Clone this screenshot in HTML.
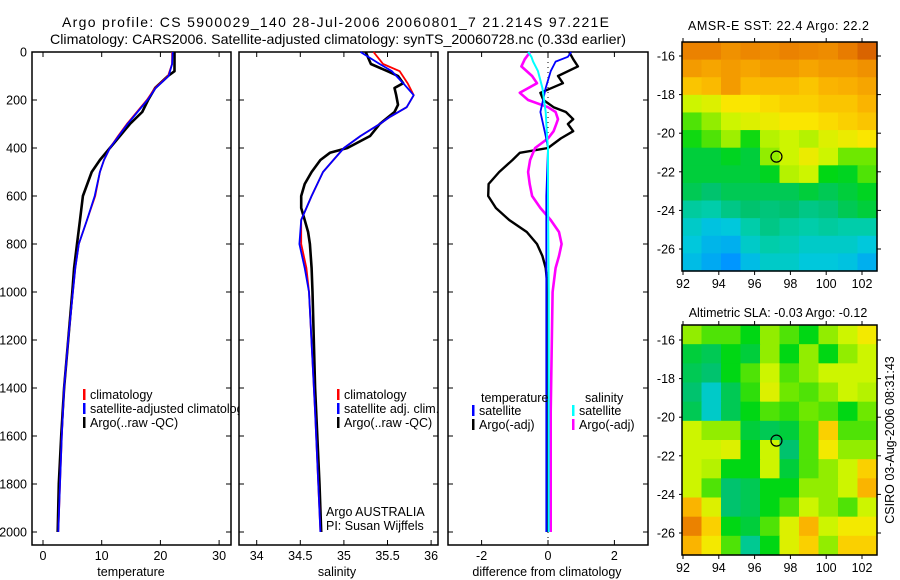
<!DOCTYPE html>
<html><head><meta charset="utf-8"><style>
html,body{margin:0;padding:0;background:#fff;width:900px;height:580px;overflow:hidden}
svg{font-family:"Liberation Sans",sans-serif;display:block}
</style></head><body>
<svg id="fig" width="900" height="580" viewBox="0 0 900 580" xmlns="http://www.w3.org/2000/svg">
<defs><clipPath id="clipP1"><rect x="0" y="0" width="239" height="580"/></clipPath></defs>
<text x="62" y="27" font-size="14" textLength="547" lengthAdjust="spacing">Argo profile: CS 5900029_140 28-Jul-2006 20060801_7 21.214S 97.221E</text>
<text x="50" y="44" font-size="14" textLength="576" lengthAdjust="spacingAndGlyphs">Climatology: CARS2006. Satellite-adjusted climatology: synTS_20060728.nc (0.33d earlier)</text>
<text x="688" y="30" font-size="12.5" textLength="181" lengthAdjust="spacing">AMSR-E SST: 22.4 Argo: 22.2</text>
<text x="778" y="317" font-size="12.5" text-anchor="middle">Altimetric SLA: -0.03 Argo: -0.12</text>
<text x="0" y="0" font-size="12.5" text-anchor="middle" transform="translate(894,440) rotate(-90)">CSIRO 03-Aug-2006 08:31:43</text>
</svg>
<script>
// ---- depth profile data ----
const tempDepth=[0,50,100,150,200,250,300,350,400,450,500,600,700,800,900,1000,1200,1400,1600,1800,2000];
const tempClim=[22,22,21.3,19.1,17.7,16,14.3,12.8,11.4,10.4,9.7,8.9,7.5,6.1,5.5,5.1,4.3,3.6,3.2,2.9,2.6];
const tempSat=[22.1,22,21.4,19.2,17.8,16.1,14.4,12.9,11.4,10.4,9.7,8.8,7.5,6.1,5.5,5.1,4.3,3.6,3.2,2.9,2.6];
const argoDepth=[0,80,100,150,200,250,300,350,400,450,500,600,700,800,900,1000,1200,1400,1600,1800,2000];
const tempArgo=[22.4,22.4,21.3,19.1,17.9,16.9,14.8,13.1,11.4,9.7,8.3,6.8,6.3,5.8,5.3,5.0,4.3,3.6,3.1,2.7,2.5];
const salDepth=[0,50,80,130,180,230,270,300,350,400,450,500,600,700,800,900,1000,1500,2000];
const salClim=[35.34,35.45,35.64,35.73,35.8,35.72,35.53,35.41,35.19,35.0,34.88,34.76,34.63,34.51,34.51,34.57,34.6,34.67,34.73];
const salSat=[35.19,35.41,35.55,35.68,35.8,35.72,35.53,35.41,35.19,35.0,34.88,34.76,34.63,34.51,34.49,34.55,34.6,34.67,34.73];
const salArgoDepth=[0,50,80,100,130,150,180,220,250,300,350,400,420,450,500,550,600,650,700,750,800,900,1000,1400,1800,2000];
const salArgo=[35.25,35.31,35.5,35.62,35.68,35.58,35.6,35.62,35.58,35.41,35.3,35.04,34.84,34.73,34.63,34.55,34.51,34.51,34.55,34.59,34.61,34.63,34.64,34.67,34.72,34.74];
const diffDepth=[0,30,60,100,130,170,200,230,250,280,300,330,360,400,420,450,500,550,600,650,700,750,800,850,900,1000,1500,2000];
const diffTempArgo=[0.64,0.76,0.9,0.3,0.45,-0.23,-0.14,0.17,0.54,0.76,0.6,0.76,0.39,0,-0.85,-1.07,-1.47,-1.79,-1.8,-1.57,-1.17,-0.64,-0.33,-0.17,-0.07,0,-0.02,-0.03];
const diffSalArgo=[-0.54,-0.7,-0.8,-0.48,-0.33,-0.85,-0.6,0,0.23,0.3,0.25,0.17,0.0,-0.39,-0.45,-0.54,-0.6,-0.55,-0.48,-0.23,0.08,0.33,0.41,0.33,0.23,0.14,0.08,0.08];
const sdiffDepth=[0,20,40,80,150,250,350,400,600,1000,1500,2000];
const diffTempSat=[0.7,0.6,0.23,0.08,-0.07,-0.23,-0.07,0,-0.05,-0.05,-0.05,-0.05];
const diffSalSat=[-0.6,-0.5,-0.45,-0.3,-0.17,-0.07,-0.03,0,0.0,0.02,0.02,0.02];
// ---- map grids (rows north->south, cols west->east), colour index 0..1 ----
const sstGrid=[
[0.85,0.85,0.82,0.84,0.83,0.85,0.84,0.83,0.86,0.9],
[0.8,0.78,0.8,0.78,0.8,0.8,0.78,0.8,0.8,0.82],
[0.72,0.74,0.8,0.74,0.74,0.74,0.72,0.75,0.76,0.78],
[0.6,0.62,0.66,0.66,0.68,0.7,0.7,0.72,0.72,0.75],
[0.5,0.55,0.6,0.62,0.64,0.66,0.66,0.68,0.7,0.72],
[0.46,0.5,0.56,0.46,0.58,0.6,0.58,0.62,0.64,0.66],
[0.42,0.42,0.44,0.42,0.55,0.6,0.64,0.6,0.52,0.52],
[0.42,0.42,0.42,0.42,0.44,0.58,0.6,0.45,0.44,0.5],
[0.4,0.38,0.4,0.4,0.4,0.4,0.42,0.4,0.42,0.44],
[0.34,0.33,0.36,0.38,0.37,0.38,0.36,0.37,0.4,0.42],
[0.3,0.27,0.28,0.33,0.36,0.34,0.33,0.34,0.33,0.33],
[0.28,0.25,0.24,0.3,0.33,0.32,0.3,0.3,0.3,0.28],
[0.26,0.23,0.2,0.26,0.3,0.3,0.28,0.28,0.27,0.24]];
const slaGrid=[
[0.55,0.5,0.5,0.45,0.55,0.5,0.45,0.55,0.6,0.65],
[0.42,0.4,0.45,0.42,0.55,0.45,0.55,0.45,0.55,0.6],
[0.4,0.38,0.45,0.5,0.6,0.5,0.55,0.6,0.6,0.6],
[0.38,0.3,0.4,0.48,0.62,0.52,0.5,0.55,0.6,0.58],
[0.4,0.3,0.4,0.45,0.5,0.48,0.52,0.5,0.45,0.52],
[0.6,0.55,0.55,0.42,0.4,0.42,0.5,0.7,0.5,0.5],
[0.6,0.6,0.62,0.45,0.6,0.38,0.5,0.65,0.55,0.55],
[0.6,0.58,0.45,0.45,0.6,0.42,0.5,0.55,0.6,0.7],
[0.6,0.5,0.38,0.4,0.45,0.45,0.55,0.55,0.6,0.75],
[0.75,0.62,0.38,0.4,0.45,0.5,0.6,0.55,0.5,0.6],
[0.85,0.7,0.45,0.42,0.5,0.62,0.75,0.6,0.65,0.65],
[0.75,0.65,0.5,0.35,0.45,0.62,0.7,0.55,0.7,0.7]];
const depthTicks=[0,200,400,600,800,1000,1200,1400,1600,1800,2000];
const tempTicks=[0,10,20,30];
const salTicks=[34,34.5,35,35.5,36];
const diffTicks=[-2,0,2];
const latTicks=[16,18,20,22,24,26];
const lonTicks=[92,94,96,98,100,102];

const NS="http://www.w3.org/2000/svg";
const svg=document.getElementById('fig');
function el(tag,attrs,parent){const e=document.createElementNS(NS,tag);for(const k in attrs)e.setAttribute(k,attrs[k]);(parent||svg).appendChild(e);return e;}
const yD=d=>52+d*0.24;
const xT=v=>43+v*5.87;
const xS=v=>256.7+(v-34)*87.2;
const xF=v=>548+v*33.2;

function panel(name,x0,x1){
  const g=el('g',{});
  
  
  el('rect',{x:x0,y:52,width:x1-x0,height:493,fill:'#fff',stroke:'#000','stroke-width':1.5},g);
  return g;
}
function line(g,name,xs,ys,fx,color,w,dash){
  const pts=xs.map((v,i)=>fx(v).toFixed(1)+','+yD(ys[i]).toFixed(1)).join(' ');
  const p=el('polyline',{points:pts,fill:'none',stroke:color,'stroke-width':w,'stroke-linejoin':'round'},g);
  if(dash)p.setAttribute('stroke-dasharray',dash);
  
  
}
function xticks(g,ticks,fx,x0,x1){
  ticks.forEach(t=>{const x=fx(t);
    el('line',{x1:x,y1:52,x2:x,y2:57,stroke:'#000'},g);
    el('line',{x1:x,y1:545,x2:x,y2:540,stroke:'#000'},g);
    const tx=el('text',{x:x,y:560,'font-size':12.5,'text-anchor':'middle'},g);tx.textContent=String(t);
    
    
  });
  depthTicks.forEach(d=>{const y=yD(d);
    el('line',{x1:x0,y1:y,x2:x0+5,y2:y,stroke:'#000'},g);
    el('line',{x1:x1,y1:y,x2:x1-5,y2:y,stroke:'#000'},g);});
}
function legend(g,x,y,color,label,name){
  el('rect',{x:x,y:y-9,width:2.5,height:11,fill:color},g);
  if(label){const t=el('text',{x:x+7,y:y+1,'font-size':12.5},g);t.textContent=label;
  
  }
}
function label(g,x,y,txt,name,anchor){const t=el('text',{x:x,y:y,'font-size':12.5,'text-anchor':anchor||'start'},g);t.textContent=txt;
  
  return t;}

// Panel 1 temperature
const p1=panel('temperature-panel',32,231);
xticks(p1,tempTicks,xT,32,231);
depthTicks.forEach(d=>{const t=el('text',{x:27,y:yD(d)+4.5,'font-size':12.5,'text-anchor':'end'},p1);t.textContent=String(d);
  
  });
line(p1,'temp-argo-line',tempArgo,argoDepth,xT,'#000',2.6);
line(p1,'temp-climatology-line',tempClim,tempDepth,xT,'#f00',1.8);
line(p1,'temp-satellite-line',tempSat,tempDepth,xT,'#00f',1.8);
label(p1,131,576,'temperature','temperature-axis-title','middle');
const lg1=el('g',{'clip-path':'url(#clipP1)'},p1);
legend(lg1,83,398,'#f00','climatology','legend-climatology');
legend(lg1,83,412,'#00f','satellite-adjusted climatology','legend-satellite-adjusted');
legend(lg1,83,426,'#000','Argo(..raw -QC)','legend-argo');

// Panel 2 salinity
const p2=panel('salinity-panel',239,438);
xticks(p2,salTicks,xS,239,438);
line(p2,'sal-argo-line',salArgo,salArgoDepth,xS,'#000',2.6);
line(p2,'sal-climatology-line',salClim,salDepth,xS,'#f00',1.8);
line(p2,'sal-satellite-line',salSat,salDepth,xS,'#00f',1.8);
label(p2,337,576,'salinity','salinity-axis-title','middle');
legend(p2,337,398,'#f00','climatology','legend-climatology');
legend(p2,337,412,'#00f','satellite adj. clim.','legend-satellite-adj');
legend(p2,337,426,'#000','Argo(..raw -QC)','legend-argo');
label(p2,326,516,'Argo AUSTRALIA','argo-agency-label');
label(p2,326,530,'PI: Susan Wijffels','pi-label');

// Panel 3 differences
const p3=panel('difference-panel',448,648);
xticks(p3,diffTicks,xF,448,648);
el('line',{x1:xF(0),y1:52,x2:xF(0),y2:545,stroke:'#000','stroke-dasharray':'1,4'},p3);
line(p3,'diff-temp-argo-line',diffTempArgo,diffDepth,xF,'#000',2.4);
line(p3,'diff-sal-argo-line',diffSalArgo,diffDepth,xF,'#f0f',2.6);
line(p3,'diff-temp-satellite-line',diffTempSat,sdiffDepth,xF,'#00f',1.8);
line(p3,'diff-sal-satellite-line',diffSalSat,sdiffDepth,xF,'#0ff',2);
label(p3,547,576,'difference from climatology','difference-axis-title','middle');
label(p3,481,402,'temperature','legend-temperature-header');
label(p3,585,402,'salinity','legend-salinity-header');
legend(p3,472,414,'#00f','satellite','legend-temp-satellite');
legend(p3,472,428,'#000','Argo(-adj)','legend-temp-argo');
legend(p3,572,414,'#0ff','satellite','legend-sal-satellite');
legend(p3,572,428,'#f0f','Argo(-adj)','legend-sal-argo');

// ---- maps ----
const stops=[[0.2,[0,150,255]],[0.28,[0,200,220]],[0.33,[0,205,170]],[0.38,[0,195,110]],[0.45,[0,215,20]],[0.52,[110,232,0]],[0.6,[205,245,0]],[0.66,[250,230,0]],[0.75,[250,180,0]],[0.85,[235,130,0]],[0.95,[200,70,0]]];
function cmap(v){
  if(v<=stops[0][0])return stops[0][1];
  for(let i=1;i<stops.length;i++){if(v<=stops[i][0]){const a=stops[i-1],b=stops[i],f=(v-a[0])/(b[0]-a[0]);
    return a[1].map((c,k)=>Math.round(c+(b[1][k]-c)*f));}}
  return stops[stops.length-1][1];
}
function mapPanel(name,grid,top,bot,lat16y){
  const x0=682,x1=877;
  const g=el('g',{});
  
  
  const rows=grid.length,cols=grid[0].length;
  const cw=(x1-x0)/cols,ch=(bot-top)/rows;
  grid.forEach((row,r)=>row.forEach((v,c)=>{
    const c3=cmap(v);
    const rc=el('rect',{x:(x0+c*cw).toFixed(2),y:(top+r*ch).toFixed(2),width:(cw+0.6).toFixed(2),height:(ch+0.6).toFixed(2),fill:'rgb('+c3.join(',')+')'},g);
    
    
  }));
  el('rect',{x:x0,y:top,width:x1-x0,height:bot-top,fill:'none',stroke:'#000','stroke-width':1.5},g);
  const lonX=l=>683+(l-92)*17.9;
  const latY=l=>lat16y+(l-16)*19.3;
  lonTicks.forEach(l=>{const x=lonX(l);
    el('line',{x1:x,y1:top,x2:x,y2:top-4,stroke:'#000'},g);
    el('line',{x1:x,y1:bot,x2:x,y2:bot+4,stroke:'#000'},g);
    const t=el('text',{x:x,y:bot+17,'font-size':12.5,'text-anchor':'middle'},g);t.textContent=String(l);
    
    });
  latTicks.forEach(l=>{const y=latY(l);
    el('line',{x1:x1,y1:y,x2:x1+4,y2:y,stroke:'#000'},g);
    el('line',{x1:x0,y1:y,x2:x0-3,y2:y,stroke:'#000'},g);
    const t=el('text',{x:x0-7,y:y+4.5,'font-size':12.5,'text-anchor':'end'},g);t.textContent='-'+l;
    
    });
  const m=el('circle',{cx:lonX(97.221),cy:latY(21.214),r:5.5,fill:'none',stroke:'#000','stroke-width':1.2},g);
  
  
}
mapPanel('sst-map',sstGrid,42,271,56);
mapPanel('sla-map',slaGrid,325,555,340);
</script>
</body></html>
